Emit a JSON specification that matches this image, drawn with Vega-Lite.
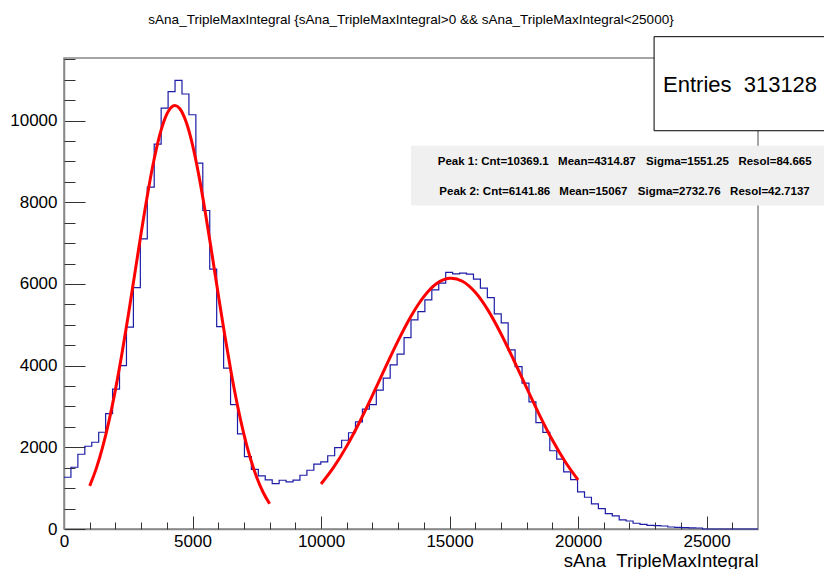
{
  "$schema": "https://vega.github.io/schema/vega-lite/v6.json",
  "width": 694,
  "height": 471,
  "autosize": {"type": "none"},
  "padding": {"left": 64, "top": 58, "right": 66, "bottom": 40},
  "background": "white",
  "title": {
    "text": "sAna_TripleMaxIntegral {sAna_TripleMaxIntegral>0 && sAna_TripleMaxIntegral<25000}",
    "font": "Liberation Sans",
    "fontSize": 13.5,
    "fontWeight": "normal",
    "color": "#000000",
    "anchor": "middle",
    "baseline": "alphabetic",
    "offset": -1
  },
  "config": {
    "view": {"stroke": "#888888", "strokeWidth": 1.5},
    "axis": {
      "grid": false,
      "domainColor": "#888888",
      "domainWidth": 1.5,
      "tickColor": "#333333",
      "tickWidth": 1,
      "labelFont": "Liberation Sans",
      "labelFontSize": 17,
      "labelColor": "#000000",
      "labelOverlap": false,
      "labelFlush": false,
      "titleFont": "Liberation Sans",
      "titleColor": "#000000",
      "titleFontWeight": "normal"
    }
  },
  "resolve": {"axis": {"x": "independent", "y": "independent"}},
  "datasets": {
    "hist": [
      {"x": 0, "n": 1267}, {"x": 270, "n": 1512}, {"x": 540, "n": 1830}, {"x": 810, "n": 2026},
      {"x": 1080, "n": 2124}, {"x": 1350, "n": 2369}, {"x": 1620, "n": 2825}, {"x": 1890, "n": 3423},
      {"x": 2160, "n": 4001}, {"x": 2430, "n": 4942}, {"x": 2700, "n": 5912}, {"x": 2970, "n": 7105},
      {"x": 3240, "n": 8372}, {"x": 3510, "n": 9425}, {"x": 3780, "n": 10307}, {"x": 4050, "n": 10707},
      {"x": 4320, "n": 10983}, {"x": 4590, "n": 10650}, {"x": 4860, "n": 10143}, {"x": 5130, "n": 8960},
      {"x": 5400, "n": 7798}, {"x": 5670, "n": 6363}, {"x": 5940, "n": 4956}, {"x": 6210, "n": 3937},
      {"x": 6480, "n": 3045}, {"x": 6750, "n": 2328}, {"x": 7020, "n": 1771}, {"x": 7290, "n": 1462},
      {"x": 7560, "n": 1303}, {"x": 7830, "n": 1201}, {"x": 8100, "n": 1110}, {"x": 8370, "n": 1193},
      {"x": 8640, "n": 1156}, {"x": 8910, "n": 1196}, {"x": 9180, "n": 1316}, {"x": 9450, "n": 1438},
      {"x": 9720, "n": 1588}, {"x": 9990, "n": 1642}, {"x": 10260, "n": 1793}, {"x": 10530, "n": 1992},
      {"x": 10800, "n": 2173}, {"x": 11070, "n": 2357}, {"x": 11340, "n": 2622}, {"x": 11610, "n": 2933},
      {"x": 11880, "n": 3043}, {"x": 12150, "n": 3398}, {"x": 12420, "n": 3692}, {"x": 12690, "n": 4018},
      {"x": 12960, "n": 4280}, {"x": 13230, "n": 4687}, {"x": 13500, "n": 5121}, {"x": 13770, "n": 5324},
      {"x": 14040, "n": 5611}, {"x": 14310, "n": 5856}, {"x": 14580, "n": 6020}, {"x": 14850, "n": 6284},
      {"x": 15120, "n": 6248}, {"x": 15390, "n": 6265}, {"x": 15660, "n": 6240}, {"x": 15930, "n": 6118},
      {"x": 16200, "n": 5897}, {"x": 16470, "n": 5667}, {"x": 16740, "n": 5268}, {"x": 17010, "n": 5047},
      {"x": 17280, "n": 4386}, {"x": 17550, "n": 3976}, {"x": 17820, "n": 3570}, {"x": 18090, "n": 3112},
      {"x": 18360, "n": 2604}, {"x": 18630, "n": 2364}, {"x": 18900, "n": 1916}, {"x": 19170, "n": 1710},
      {"x": 19440, "n": 1397}, {"x": 19710, "n": 1208}, {"x": 19980, "n": 907}, {"x": 20250, "n": 777},
      {"x": 20520, "n": 613}, {"x": 20790, "n": 497}, {"x": 21060, "n": 375}, {"x": 21330, "n": 319},
      {"x": 21600, "n": 221}, {"x": 21870, "n": 196}, {"x": 22140, "n": 141}, {"x": 22410, "n": 115},
      {"x": 22680, "n": 91}, {"x": 22950, "n": 81}, {"x": 23220, "n": 74}, {"x": 23490, "n": 49},
      {"x": 23760, "n": 42}, {"x": 24030, "n": 32}, {"x": 24300, "n": 29}, {"x": 24570, "n": 25},
      {"x": 24840, "n": 0}, {"x": 25110, "n": 0}, {"x": 25380, "n": 0}, {"x": 25650, "n": 0},
      {"x": 25920, "n": 0}, {"x": 26190, "n": 0}, {"x": 26460, "n": 0}, {"x": 26730, "n": 0},
      {"x": 27000, "n": 0}
    ],
    "fit": [
      {"peak": "Peak 1", "x": 1000, "y": 1057}, {"peak": "Peak 1", "x": 1250, "y": 1472},
      {"peak": "Peak 1", "x": 1500, "y": 1999}, {"peak": "Peak 1", "x": 1750, "y": 2643},
      {"peak": "Peak 1", "x": 2000, "y": 3406}, {"peak": "Peak 1", "x": 2250, "y": 4276},
      {"peak": "Peak 1", "x": 2500, "y": 5230}, {"peak": "Peak 1", "x": 2750, "y": 6234},
      {"peak": "Peak 1", "x": 3000, "y": 7240}, {"peak": "Peak 1", "x": 3250, "y": 8192},
      {"peak": "Peak 1", "x": 3500, "y": 9033}, {"peak": "Peak 1", "x": 3750, "y": 9704},
      {"peak": "Peak 1", "x": 4000, "y": 10158}, {"peak": "Peak 1", "x": 4250, "y": 10360},
      {"peak": "Peak 1", "x": 4315, "y": 10369}, {"peak": "Peak 1", "x": 4500, "y": 10296},
      {"peak": "Peak 1", "x": 4750, "y": 9969}, {"peak": "Peak 1", "x": 5000, "y": 9405},
      {"peak": "Peak 1", "x": 5250, "y": 8646}, {"peak": "Peak 1", "x": 5500, "y": 7745},
      {"peak": "Peak 1", "x": 5750, "y": 6759}, {"peak": "Peak 1", "x": 6000, "y": 5747},
      {"peak": "Peak 1", "x": 6250, "y": 4762}, {"peak": "Peak 1", "x": 6500, "y": 3845},
      {"peak": "Peak 1", "x": 6750, "y": 3024}, {"peak": "Peak 1", "x": 7000, "y": 2318},
      {"peak": "Peak 1", "x": 7250, "y": 1731}, {"peak": "Peak 1", "x": 7500, "y": 1260},
      {"peak": "Peak 1", "x": 7750, "y": 893}, {"peak": "Peak 1", "x": 8000, "y": 617},
      {"peak": "Peak 2", "x": 10000, "y": 1101}, {"peak": "Peak 2", "x": 10500, "y": 1520},
      {"peak": "Peak 2", "x": 11000, "y": 2029}, {"peak": "Peak 2", "x": 11500, "y": 2620},
      {"peak": "Peak 2", "x": 12000, "y": 3272}, {"peak": "Peak 2", "x": 12500, "y": 3951},
      {"peak": "Peak 2", "x": 13000, "y": 4614}, {"peak": "Peak 2", "x": 13500, "y": 5211},
      {"peak": "Peak 2", "x": 14000, "y": 5691}, {"peak": "Peak 2", "x": 14500, "y": 6011},
      {"peak": "Peak 2", "x": 15000, "y": 6140}, {"peak": "Peak 2", "x": 15067, "y": 6142},
      {"peak": "Peak 2", "x": 15500, "y": 6065}, {"peak": "Peak 2", "x": 16000, "y": 5794},
      {"peak": "Peak 2", "x": 16500, "y": 5353}, {"peak": "Peak 2", "x": 17000, "y": 4782},
      {"peak": "Peak 2", "x": 17500, "y": 4132}, {"peak": "Peak 2", "x": 18000, "y": 3453},
      {"peak": "Peak 2", "x": 18500, "y": 2790}, {"peak": "Peak 2", "x": 19000, "y": 2180},
      {"peak": "Peak 2", "x": 19500, "y": 1648}, {"peak": "Peak 2", "x": 20000, "y": 1204}
    ],
    "boxes": [
      {"box": "fitpanel", "x": 13502, "x2": 30000, "y": 9384, "y2": 7921},
      {"box": "stats", "x": 22957, "x2": 30000, "y": 12054, "y2": 9751}
    ],
    "labels": [
      {"kind": "entries", "x": 23307, "y": 10699, "t": "Entries"},
      {"kind": "count", "x": 29299, "y": 10699, "t": "313128"},
      {"kind": "peak", "x": 14541, "y": 8918, "t": "Peak 1: Cnt=10369.1"},
      {"kind": "peak", "x": 19222, "y": 8918, "t": "Mean=4314.87"},
      {"kind": "peak", "x": 22646, "y": 8918, "t": "Sigma=1551.25"},
      {"kind": "peak", "x": 26237, "y": 8918, "t": "Resol=84.665"},
      {"kind": "peak", "x": 14603, "y": 8183, "t": "Peak 2: Cnt=6141.86"},
      {"kind": "peak", "x": 19272, "y": 8183, "t": "Mean=15067"},
      {"kind": "peak", "x": 22323, "y": 8183, "t": "Sigma=2732.76"},
      {"kind": "peak", "x": 25914, "y": 8183, "t": "Resol=42.7137"}
    ]
  },
  "layer": [
    {
      "data": {"name": "hist"},
      "mark": {"type": "line", "interpolate": "step-after", "color": "#1c1ca6", "strokeWidth": 1.2},
      "encoding": {
        "x": {
          "field": "x", "type": "quantitative",
          "scale": {"domain": [0, 27000], "nice": false, "zero": false},
          "axis": {
            "orient": "bottom",
            "values": [0, 5000, 10000, 15000, 20000, 25000],
            "format": "d",
            "tickSize": -13,
            "labelPadding": 17,
            "labelBaseline": "top",
            "title": "sAna_TripleMaxIntegral",
            "titleFontSize": 18.5,
            "titleAnchor": "end",
            "titleAlign": "right",
            "titleX": 694,
            "titleY": 37,
            "titleBaseline": "alphabetic"
          }
        },
        "y": {
          "field": "n", "type": "quantitative",
          "scale": {"domain": [0, 11532], "nice": false},
          "axis": {
            "orient": "left",
            "values": [0, 2000, 4000, 6000, 8000, 10000],
            "format": "d",
            "tickSize": -21,
            "labelPadding": 28,
            "title": null
          }
        }
      }
    },
    {
      "data": {"name": "fit"},
      "mark": {"type": "line", "interpolate": "monotone", "color": "#ff0000", "strokeWidth": 3},
      "encoding": {
        "x": {
          "field": "x", "type": "quantitative",
          "axis": {
            "orient": "bottom",
            "values": [1000,2000,3000,4000,6000,7000,8000,9000,11000,12000,13000,14000,16000,17000,18000,19000,21000,22000,23000,24000,26000],
            "tickSize": -7,
            "labels": false,
            "domain": false,
            "title": null
          }
        },
        "y": {
          "field": "y", "type": "quantitative",
          "axis": {
            "orient": "left",
            "values": [500,1000,1500,2500,3000,3500,4500,5000,5500,6500,7000,7500,8500,9000,9500,10500,11000,11500],
            "tickSize": -11,
            "labels": false,
            "domain": false,
            "title": null
          }
        },
        "detail": {"field": "peak"}
      }
    },
    {
      "data": {"name": "boxes"},
      "transform": [{"filter": "datum.box == 'fitpanel'"}],
      "mark": {"type": "rect", "fill": "#f0f0f0", "clip": false},
      "encoding": {
        "x": {"field": "x", "type": "quantitative", "axis": null},
        "x2": {"field": "x2"},
        "y": {"field": "y", "type": "quantitative", "axis": null},
        "y2": {"field": "y2"}
      }
    },
    {
      "data": {"name": "boxes"},
      "transform": [{"filter": "datum.box == 'stats'"}],
      "mark": {"type": "rect", "fill": "#ffffff", "stroke": "#000000", "strokeWidth": 1, "clip": false},
      "encoding": {
        "x": {"field": "x", "type": "quantitative", "axis": null},
        "x2": {"field": "x2"},
        "y": {"field": "y", "type": "quantitative", "axis": null},
        "y2": {"field": "y2"}
      }
    },
    {
      "data": {"name": "labels"},
      "transform": [{"filter": "datum.kind == 'entries'"}],
      "mark": {"type": "text", "font": "Liberation Sans", "fontSize": 22, "align": "left", "baseline": "alphabetic", "color": "#000000"},
      "encoding": {
        "x": {"field": "x", "type": "quantitative", "axis": null},
        "y": {"field": "y", "type": "quantitative", "axis": null},
        "text": {"field": "t"}
      }
    },
    {
      "data": {"name": "labels"},
      "transform": [{"filter": "datum.kind == 'count'"}],
      "mark": {"type": "text", "font": "Liberation Sans", "fontSize": 22, "align": "right", "baseline": "alphabetic", "color": "#000000"},
      "encoding": {
        "x": {"field": "x", "type": "quantitative", "axis": null},
        "y": {"field": "y", "type": "quantitative", "axis": null},
        "text": {"field": "t"}
      }
    },
    {
      "data": {"name": "labels"},
      "transform": [{"filter": "datum.kind == 'peak'"}],
      "mark": {"type": "text", "font": "Liberation Sans", "fontSize": 11.5, "fontWeight": "bold", "align": "left", "baseline": "alphabetic", "color": "#000000"},
      "encoding": {
        "x": {"field": "x", "type": "quantitative", "axis": null},
        "y": {"field": "y", "type": "quantitative", "axis": null},
        "text": {"field": "t"}
      }
    }
  ]
}
